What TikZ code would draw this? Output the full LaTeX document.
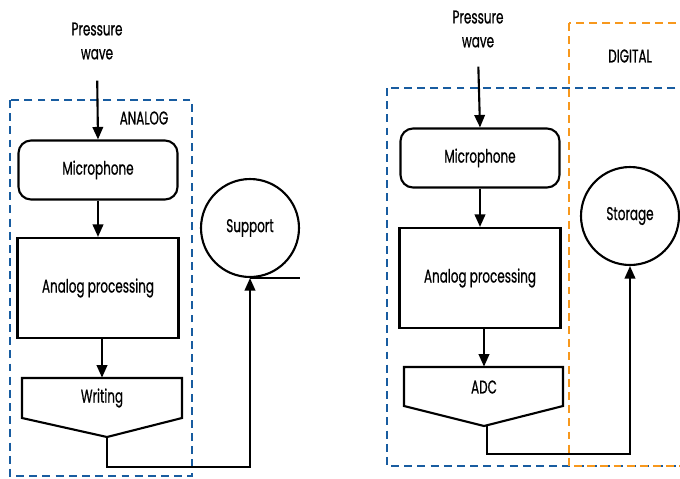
\documentclass[tikz,border=0pt]{standalone}
\usepackage{fontspec}
\setmainfont[FakeStretch=0.65, FakeBold=0.7]{Poppins}
\usetikzlibrary{arrows.meta}
\definecolor{anablue}{RGB}{24,92,160}
\definecolor{digorange}{RGB}{247,152,29}
\tikzset{
  micbox/.style={draw, line width=1.2pt, rounded corners=0.25cm, minimum width=3.18cm, minimum height=1.18cm},
  procbox/.style={draw, line width=1.2pt, minimum width=3.22cm, minimum height=2cm},
  wrbox/.style={minimum width=3.2cm, minimum height=0.8cm},
  store/.style={draw, circle, line width=1.2pt, minimum size=1.96cm, inner sep=0pt},
  zone/.style={line width=1.1pt, dash pattern=on 4.5pt off 3pt},
  arr/.style={line width=1.2pt, -{Triangle[length=2.5mm,width=2.1mm]}},
  conn/.style={line width=1.2pt}
}

\begin{document}
\begin{tikzpicture}[x=0.02cm, y=-0.02cm, every node/.style={font=\fontsize{10.5}{13.6}\selectfont}]
    \clip (0,0) rectangle (680,478);
    % analog chain
    \draw[zone, anablue] (10,100) rectangle (192,476);
    \node[align=center] (pw1) at (97,41) {Pressure\\wave};
    \node (ana) at (144,118) {ANALOG};
    \node[micbox] (mic1) at (98,170) {Microphone};
    \node[procbox] (proc1) at (98,288) {Analog processing};
    \node[wrbox] (wr) at (102,398) {Writing};
    \draw[conn] (22,378) -- (182,378) -- (182,418) -- (107,437) -- (22,418) -- cycle;
    \coordinate (wrtip) at (107,437);
    \node[store] (sup) at (250,228) {Support};
    \draw[conn] (sup.south) -- ++(50,0);
    \draw[arr, shorten <=0.3cm] (pw1.south) -- (mic1.north);
    \draw[arr] (mic1) -- (proc1);
    \draw[arr] (proc1.south -| wr.north) -- (wr.north);
    \draw[arr] (wrtip) -- ++(0,30) -| (sup.south);
    % digital chain
    \draw[zone, anablue] (387,88) rectangle (700,466);
    \draw[zone, digorange] (569,23) rectangle (700,466);
    \node[align=center] (pw2) at (478,29) {Pressure\\wave};
    \node (dig) at (630,56) {DIGITAL};
    \node[micbox] (mic2) at (480,158) {Microphone};
    \node[procbox] (proc2) at (480,278) {Analog processing};
    \node[wrbox] (adc) at (484,387) {ADC};
    \draw[conn] (404,367) -- (563,367) -- (563,406) -- (484,426) -- (404,406) -- cycle;
    \coordinate (adctip) at (487,426);
    \node[store] (sto) at (630,216) {Storage};
    \draw[arr, shorten <=0.26cm] (pw2.south) -- (mic2.north);
    \draw[arr] (mic2) -- (proc2);
    \draw[arr] (proc2.south -| adc.north) -- (adc.north);
    \draw[arr] (adctip) -- ++(0,28) -| (sto.south);
\end{tikzpicture}
\end{document}
